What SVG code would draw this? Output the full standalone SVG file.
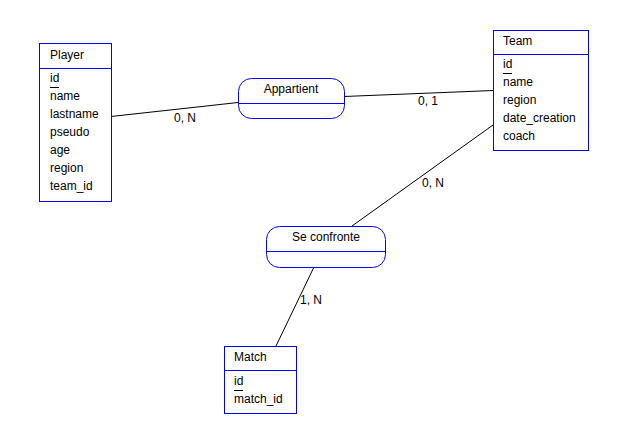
<svg xmlns="http://www.w3.org/2000/svg" width="618" height="443" viewBox="0 0 618 443">
  <style>
    .box { fill: #ffffff; stroke: #0000ff; stroke-width: 1; }
    .div { stroke: #0000ff; stroke-width: 1; }
    .t { font-family: "Liberation Sans", Arial, sans-serif; font-size: 12px; fill: #000000; }
    .tc { text-anchor: middle; }
    .ul { stroke: #000000; stroke-width: 1; }
    .link { stroke: #000000; stroke-width: 1; fill: none; }
  </style>
  <rect x="0" y="0" width="618" height="443" fill="#ffffff"/>

  <g id="connectors">
    <line class="link" x1="111" y1="116.5" x2="238" y2="102.5"/>
    <line class="link" x1="344" y1="96.5" x2="493" y2="90.5"/>
    <line class="link" x1="493" y1="125" x2="352" y2="226"/>
    <line class="link" x1="314" y1="267" x2="276" y2="346"/>
    <text class="t" x="174" y="122">0, N</text>
    <text class="t" x="418" y="105">0, 1</text>
    <text class="t" x="422" y="187">0, N</text>
    <text class="t" x="300" y="304">1, N</text>
  </g>

  <g id="player">
    <rect class="box" x="39.5" y="43.5" width="72" height="158"/>
    <line class="div" x1="39.5" y1="68.5" x2="111.5" y2="68.5"/>
    <text class="t" x="50" y="59">Player</text>
    <text class="t" x="50" y="82">id</text>
    <line class="ul" x1="50" y1="87.5" x2="59" y2="87.5"/>
    <text class="t" x="50" y="100">name</text>
    <text class="t" x="50" y="118">lastname</text>
    <text class="t" x="50" y="136">pseudo</text>
    <text class="t" x="50" y="154">age</text>
    <text class="t" x="50" y="172">region</text>
    <text class="t" x="50" y="190">team_id</text>
  </g>

  <g id="team">
    <rect class="box" x="493.5" y="30.5" width="95" height="120"/>
    <line class="div" x1="493.5" y1="54.5" x2="588.5" y2="54.5"/>
    <text class="t" x="503" y="45">Team</text>
    <text class="t" x="503" y="68">id</text>
    <line class="ul" x1="503" y1="73.5" x2="512" y2="73.5"/>
    <text class="t" x="503" y="86">name</text>
    <text class="t" x="503" y="104">region</text>
    <text class="t" x="503" y="122">date_creation</text>
    <text class="t" x="503" y="140">coach</text>
  </g>

  <g id="match">
    <rect class="box" x="224.5" y="346.5" width="72" height="67"/>
    <line class="div" x1="224.5" y1="370.5" x2="296.5" y2="370.5"/>
    <text class="t" x="234" y="361">Match</text>
    <text class="t" x="234" y="385">id</text>
    <line class="ul" x1="234" y1="390.5" x2="243" y2="390.5"/>
    <text class="t" x="234" y="403">match_id</text>
  </g>

  <g id="appartient">
    <rect class="box" x="238.5" y="78.5" width="106" height="40" rx="13" ry="13"/>
    <line class="div" x1="238.5" y1="103.5" x2="344.5" y2="103.5"/>
    <text class="t tc" x="291" y="93">Appartient</text>
  </g>

  <g id="se-confronte">
    <rect class="box" x="266.5" y="226.5" width="119" height="41" rx="13" ry="13"/>
    <line class="div" x1="266.5" y1="251.5" x2="385.5" y2="251.5"/>
    <text class="t tc" x="326" y="241">Se confronte</text>
  </g>
</svg>
